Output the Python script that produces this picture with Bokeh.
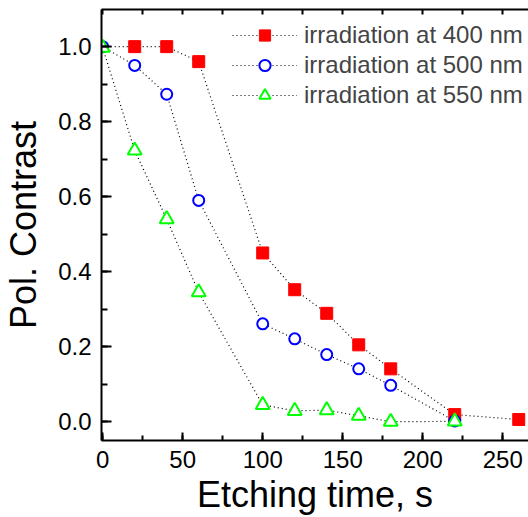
from bokeh.plotting import figure
from bokeh.models import (Range1d, LinearAxis, SingleIntervalTicker, Legend, LegendItem,
                          PrintfTickFormatter, CustomLabelingPolicy, CDSView, IndexFilter,
                          ColumnDataSource)
from bokeh.embed import file_html
from bokeh.resources import INLINE

# data
time_400 = [0, 20, 40, 60, 100, 120, 140, 160, 180, 220, 260]
contrast_400 = [1.0, 1.0, 1.0, 0.96, 0.45, 0.352, 0.289, 0.205, 0.141, 0.019, 0.006]
time_500 = [0, 20, 40, 60, 100, 120, 140, 160, 180, 220]
contrast_500 = [1.0, 0.95, 0.873, 0.59, 0.261, 0.221, 0.179, 0.141, 0.097, 0.002]
time_550 = [0, 20, 40, 60, 100, 120, 140, 160, 180, 220]
contrast_550 = [0.997, 0.723, 0.54, 0.345, 0.045, 0.029, 0.031, 0.016, 0.0, 0.001]
labels = ["irradiation at 400 nm", "irradiation at 500 nm", "irradiation at 550 nm"]

FONT = "Liberation Sans"

p = figure(width=528, height=517, output_backend="svg", toolbar_location=None,
           x_range=Range1d(-0.75, 266.1), y_range=Range1d(-0.05, 1.099),
           min_border_left=101, min_border_right=0, min_border_top=9, min_border_bottom=75)
p.outline_line_color = None
p.xgrid.visible = False
p.ygrid.visible = False
p.background_fill_color = "white"

p.xaxis.ticker = SingleIntervalTicker(interval=50, num_minor_ticks=2)
p.yaxis.ticker = SingleIntervalTicker(interval=0.2, num_minor_ticks=2)

for ax in (p.xaxis[0], p.yaxis[0]):
    ax.axis_line_width = 2
    ax.major_tick_line_width = 2
    ax.minor_tick_line_width = 2
    ax.major_tick_out = 0
    ax.minor_tick_out = 0
    ax.major_label_text_font = FONT
    ax.major_label_text_font_size = "24px"
    ax.major_label_text_color = "black"
    ax.axis_label_text_font = FONT
    ax.axis_label_text_font_size = "36px"
    ax.axis_label_text_font_style = "normal"
    ax.axis_label_text_color = "black"

p.xaxis.axis_label = "Etching time, s"
p.xaxis.major_tick_in = 8
p.xaxis.minor_tick_in = 5
p.xaxis.major_label_standoff = 10
p.xaxis.axis_label_standoff = 3

p.yaxis.axis_label = "Pol. Contrast"
p.yaxis.formatter = PrintfTickFormatter(format="%.1f")
p.yaxis.major_tick_in = 10
p.yaxis.minor_tick_in = 6
p.yaxis.major_label_standoff = 10
p.yaxis.axis_label_standoff = 11

hide_all = CustomLabelingPolicy(code="""
for (const i of Array.from(indices)) { indices.unset(i) }
return indices
""")
top = LinearAxis(ticker=SingleIntervalTicker(interval=25, num_minor_ticks=0),
                 axis_line_width=2, major_tick_in=5, major_tick_out=0,
                 minor_tick_in=0, minor_tick_out=0, major_tick_line_width=2,
                 major_label_text_font_size="1px", major_label_standoff=0,
                 major_label_policy=hide_all)
p.add_layout(top, "above")

dash = dict(line_color="black", line_dash="1 3", line_width=1.2)
src4 = ColumnDataSource(dict(x=time_400, y=contrast_400))
l4 = p.line("x", "y", source=src4, **dash)
s4 = p.scatter("x", "y", source=src4, view=CDSView(filter=IndexFilter(list(range(1, len(time_400))))),
               marker="square", size=12, fill_color="red", line_color="red", line_width=1)
l5 = p.line(time_500, contrast_500, **dash)
s5 = p.scatter(time_500, contrast_500, marker="circle", size=11,
               fill_color="white", line_color="blue", line_width=2)
l6 = p.line(time_550, contrast_550, **dash)
s6 = p.scatter(time_550, contrast_550, marker="triangle", size=14,
               fill_color="white", line_color="#00ff00", line_width=2)

legend = Legend(items=[LegendItem(label=labels[0], renderers=[l4, s4]),
                       LegendItem(label=labels[1], renderers=[l5, s5]),
                       LegendItem(label=labels[2], renderers=[l6, s6])],
                location=(131, 331))
legend.padding = 0
legend.margin = 0
legend.spacing = 2
legend.glyph_width = 65
legend.glyph_height = 28
legend.label_height = 28
legend.label_standoff = 7
legend.label_text_font = FONT
legend.label_text_font_size = "24px"
legend.border_line_color = None
legend.background_fill_alpha = 0
p.add_layout(legend)

open("out.html", "w").write(file_html(p, INLINE))
